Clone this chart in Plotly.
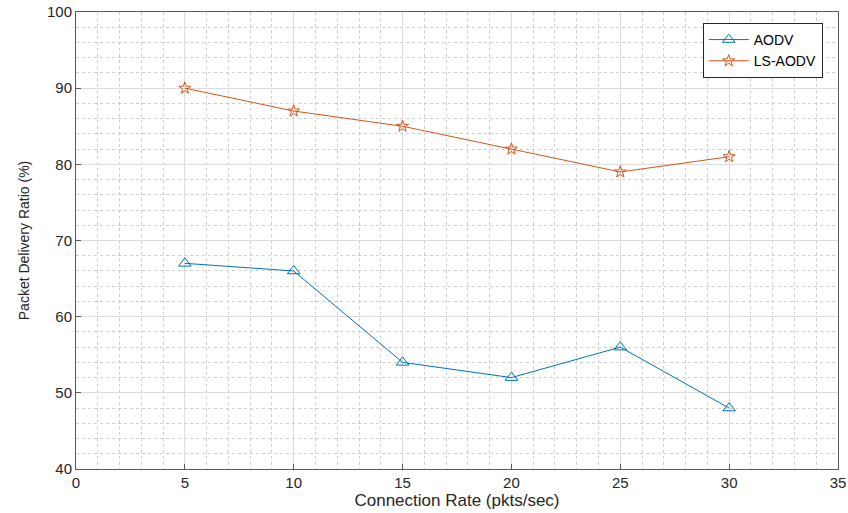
import plotly.graph_objects as go

rates = [5, 10, 15, 20, 25, 30]
aodv = [67, 66, 54, 52, 56, 48]
ls_aodv = [90, 87, 85, 82, 79, 81]

FONT = "Liberation Sans, Arial, Helvetica, sans-serif"

fig = go.Figure()
fig.add_trace(go.Scatter(x=rates, y=aodv, mode="lines+markers", name="AODV",
                         line=dict(color="#0072BD", width=1),
                         marker=dict(symbol="triangle-up-open", size=11, color="#0072BD", line=dict(width=1))))
fig.add_trace(go.Scatter(x=rates, y=ls_aodv, mode="lines+markers", name="LS-AODV",
                         line=dict(color="#D95319", width=1),
                         marker=dict(symbol="star-open", size=9, color="#D95319", line=dict(width=1))))

axis_common = dict(
    showgrid=True, gridcolor="#dcdcdc", gridwidth=1,
    showline=True, linecolor="#5a5a5a", linewidth=1, mirror=True,
    ticks="inside", ticklen=5, tickcolor="#5a5a5a",
    zeroline=False, automargin=False,
    tickfont=dict(family=FONT, size=15, color="#262626"),
)

fig.update_xaxes(range=[0, 35], dtick=5, **axis_common,
                 minor=dict(dtick=1, showgrid=True, gridcolor="#cfcfcf", griddash="dot", gridwidth=1),
                 title=dict(text="Connection Rate (pkts/sec)", font=dict(family=FONT, size=17, color="#262626"), standoff=2))
fig.update_yaxes(range=[40, 100], dtick=10, **axis_common,
                 minor=dict(dtick=2, showgrid=True, gridcolor="#cfcfcf", griddash="dot", gridwidth=1),
                 title=dict(text="Packet Delivery Ratio (%)", font=dict(family=FONT, size=14, color="#262626"), standoff=14))

fig.update_layout(
    width=848, height=513,
    margin=dict(l=76, r=10, t=12, b=44),
    plot_bgcolor="white", paper_bgcolor="white",
    legend=dict(x=0.98, y=0.976, xanchor="right", yanchor="top",
                bordercolor="#262626", borderwidth=1, bgcolor="white",
                font=dict(family=FONT, size=14, color="#000000"),
                tracegroupgap=0, itemwidth=40),
    showlegend=True,
)

fig.write_html("out.html", config={"displayModeBar": False},
               post_script="document.body.style.margin='0';document.body.style.overflow='hidden';")
